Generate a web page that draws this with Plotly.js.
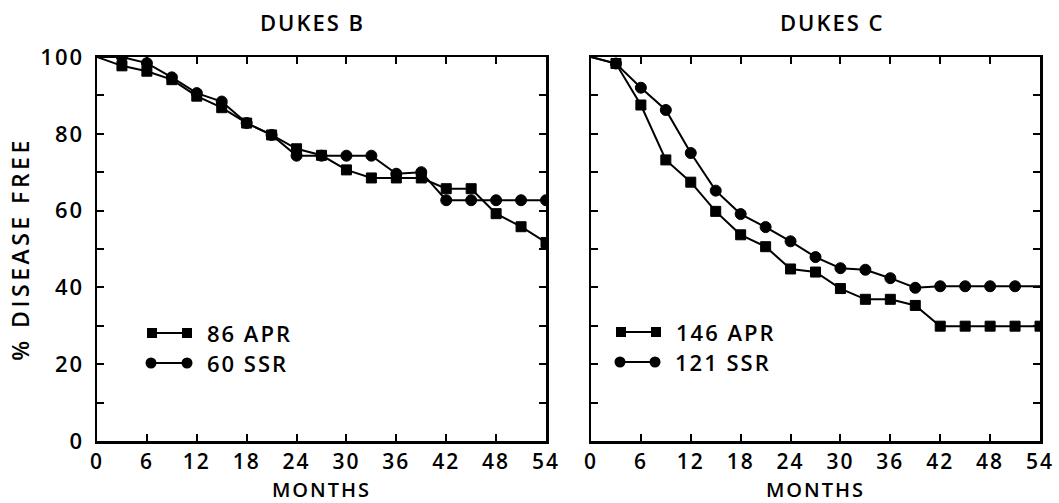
<!DOCTYPE html>
<html>
<head>
<meta charset="utf-8">
<script src="https://cdn.plot.ly/plotly-3.0.1.min.js"></script>
<style>
  html, body { margin: 0; padding: 0; background: #fff; }
  #chart { width: 1059px; height: 503px; }
  svg text { letter-spacing: 2px; }
  #chart .ytitle { letter-spacing: 3.5px; }
</style>
</head>
<body>
<div id="chart"></div>
<script>
// ---- data ----
const months = [0, 3, 6, 9, 12, 15, 18, 21, 24, 27, 30, 33, 36, 39, 42, 45, 48, 51, 54];

const panelTitles = ['DUKES B', 'DUKES C'];
const legendLabelsB = ['86 APR', '60 SSR'];
const legendLabelsC = ['146 APR', '121 SSR'];

const dukesB_APR = [100, 97.7, 96.3, 94.1, 89.8, 86.8, 82.8, 79.7, 76.1, 74.4, 70.6, 68.5, 68.5, 68.5, 65.7, 65.7, 59.2, 55.8, 51.7];
const dukesB_SSR = [100, 100, 98.4, 94.7, 90.6, 88.4, 82.8, 79.7, 74.3, 74.3, 74.3, 74.3, 69.6, 70.0, 62.7, 62.7, 62.7, 62.7, 62.7];

const dukesC_APR = [100, 98.3, 87.5, 73.2, 67.4, 59.8, 53.7, 50.6, 44.8, 44.0, 39.7, 36.9, 36.9, 35.3, 29.9, 29.9, 29.9, 29.9, 29.9];
const dukesC_SSR = [100, 98.3, 92.0, 86.2, 75.0, 65.2, 59.1, 55.7, 52.0, 47.9, 45.0, 44.6, 42.4, 39.9, 40.3, 40.3, 40.3, 40.3, 40.3];

const xTicks = [0, 6, 12, 18, 24, 30, 36, 42, 48, 54];
const yTicks = [0, 10, 20, 30, 40, 50, 60, 70, 80, 90, 100];
const yTickText = ['0', '', '20', '', '40', '', '60', '', '80', '', '100'];

// ---- style ----
const FONT = 'Open Sans, DejaVu Sans, sans-serif';
const FS = 22;
const FW = 600;
const BLACK = '#000';
const W = 1059, H = 503, ML = 97, MR = 19, MT = 57, MB = 62;
const PW = W - ML - MR, PH = H - MT - MB;
const px = v => (v - ML) / PW;         // pixel -> paper x
const py = v => (H - MB - v) / PH;     // pixel -> paper y
const fnt = (s) => ({ family: FONT, size: s || FS, color: BLACK, weight: FW });

function sizes(n, s, hideFirst, hideLast) {
  const a = new Array(n).fill(s);
  if (hideFirst) a[0] = 0;
  if (hideLast) a[n - 1] = 0;
  return a;
}

function trace(x, y, xa, ya, symbol, name, hideLast) {
  const s = symbol === 'square' ? 10 : 11;
  return {
    x: x, y: y, xaxis: xa, yaxis: ya, name: name,
    type: 'scatter', mode: 'lines+markers', showlegend: false,
    cliponaxis: true,
    line: { color: BLACK, width: 2 },
    marker: { color: BLACK, opacity: 1, symbol: symbol, size: sizes(x.length, s, true, hideLast),
              line: { color: BLACK, width: 1 } }
  };
}

const data = [
  trace(months, dukesB_APR, 'x', 'y', 'square', legendLabelsB[0], false),
  trace(months, dukesB_SSR, 'x', 'y', 'circle', legendLabelsB[1], false),
  trace(months, dukesC_APR, 'x2', 'y2', 'square', legendLabelsC[0], false),
  trace(months, dukesC_SSR, 'x2', 'y2', 'circle', legendLabelsC[1], true)
];

function xaxis(domain, anchor) {
  return {
    domain: domain, anchor: anchor, range: [0, 54],
    tickmode: 'array', tickvals: xTicks, ticktext: xTicks.map(String),
    ticks: 'inside', ticklen: 7, tickwidth: 2, tickcolor: BLACK,
    showline: true, linewidth: 2.5, linecolor: BLACK, mirror: 'ticks',
    showgrid: false, zeroline: false, ticklabelstandoff: 0,
    tickfont: fnt(21),
    title: { text: 'MONTHS', font: fnt(20), standoff: 14 }
  };
}
function yaxis(anchor, labels) {
  const a = {
    anchor: anchor, range: [0, 100], domain: [0, 1],
    tickmode: 'array', tickvals: yTicks, ticktext: yTickText,
    ticks: 'inside', ticklen: 7, tickwidth: 2, tickcolor: BLACK,
    showline: true, linewidth: 2.5, linecolor: BLACK, mirror: 'ticks',
    showgrid: false, zeroline: false, showticklabels: labels, ticklabelstandoff: 6,
    tickfont: fnt()
  };
  if (labels) {
    a.title = { text: '% DISEASE FREE', font: fnt(23), standoff: 5 };
  }
  return a;
}

const dLeft = [0, px(546)];
const dRight = [px(591), 1];

// custom legends: line with markers at both ends
const shapes = [];
const annotations = [];
function legendRow(x1, x2, y, symbol, label) {
  shapes.push({ type: 'line', xref: 'paper', yref: 'paper', x0: px(x1), x1: px(x2), y0: py(y), y1: py(y),
    line: { color: BLACK, width: 2 } });
  [x1, x2].forEach(xx => {
    const h = symbol === 'square' ? 5 : 5.5;
    shapes.push({ type: symbol === 'square' ? 'rect' : 'circle', xref: 'paper', yref: 'paper',
      xsizemode: 'pixel', ysizemode: 'pixel', xanchor: px(xx), yanchor: py(y),
      x0: -h, x1: h, y0: -h, y1: h, fillcolor: BLACK, line: { width: 0 } });
  });
  annotations.push({ xref: 'paper', yref: 'paper', x: px(x2 + 18), y: py(y), xanchor: 'left', yanchor: 'middle',
    text: label, showarrow: false, font: fnt() });
}
legendRow(152, 187, 333, 'square', legendLabelsB[0]);
legendRow(151, 187, 363, 'circle', legendLabelsB[1]);
legendRow(621, 656, 332, 'square', legendLabelsC[0]);
legendRow(620, 655, 362, 'circle', legendLabelsC[1]);

annotations.push({ xref: 'paper', yref: 'paper', x: px(312), y: py(22), xanchor: 'center', yanchor: 'middle',
  text: panelTitles[0], showarrow: false, font: fnt() });
annotations.push({ xref: 'paper', yref: 'paper', x: px(832), y: py(22), xanchor: 'center', yanchor: 'middle',
  text: panelTitles[1], showarrow: false, font: fnt() });

const layout = {
  width: W, height: H,
  margin: { l: ML, r: MR, t: MT, b: MB },
  paper_bgcolor: '#fff', plot_bgcolor: '#fff',
  showlegend: false,
  xaxis: xaxis(dLeft, 'y'),
  yaxis: yaxis('x', true),
  xaxis2: xaxis(dRight, 'y2'),
  yaxis2: yaxis('x2', false),
  shapes: shapes,
  annotations: annotations
};

Plotly.newPlot('chart', data, layout, { displayModeBar: false, staticPlot: true });
</script>
</body>
</html>
